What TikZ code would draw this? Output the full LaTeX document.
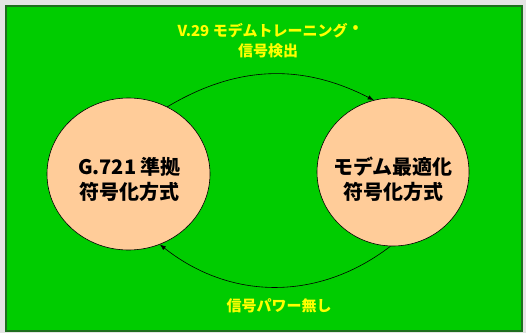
\documentclass[tikz,border=0pt]{standalone}
\usepackage{fontspec}
\setmainfont{Noto Sans CJK JP}
\usetikzlibrary{arrows.meta,shapes.geometric}
\definecolor{bggray}{HTML}{E4E4E4}
\definecolor{panelgreen}{HTML}{00CC00}
\definecolor{panelborder}{HTML}{1E6E1E}
\definecolor{peach}{HTML}{FFCC99}
\definecolor{labelyellow}{HTML}{FFFF00}
\tikzset{
  state/.style={ellipse, draw=black, line width=0.6pt, fill=peach, inner sep=0pt},
  statetext/.style={font=\bfseries\fontsize{20}{25}\selectfont, align=center, text=black, inner sep=0pt},
  edgetext/.style={font=\bfseries\fontsize{15}{20}\selectfont, align=center, text=labelyellow, inner sep=0pt},
  trans/.style={draw=black, line width=0.6pt, -{Latex[length=6pt,width=4.5pt]}}
}
\begin{document}
\begin{tikzpicture}[x=1pt,y=1pt]
  \useasboundingbox (0,0) rectangle (526,333);
  \fill[bggray] (0,0) rectangle (526,333);
  \draw[panelborder, line width=2pt, fill=panelgreen] (6,2) rectangle (522,327);
  \node[state, minimum width=163pt, minimum height=152pt] (L) at (128.5,159) {};
  \node[state, minimum width=152pt, minimum height=148pt] (R) at (393,161) {};
  \node[statetext] (Lt) at (129.5,154) {G.721 準拠\\符号化方式};
  \node[statetext] (Rt) at (393,154) {モデム最適化\\符号化方式};
  \node[edgetext] (top) at (268,292) {V.29 モデムトレーニング\hspace{5pt}\raisebox{4pt}{\textbullet}\\信号検出};
  \node[edgetext] (bot) at (279,27.5) {信号パワー無し};
  \draw[trans] (L.60) to[bend left=29] (R.105);
  \draw[trans] (R.268) to[bend left=38] (L.294);
\end{tikzpicture}
\end{document}
